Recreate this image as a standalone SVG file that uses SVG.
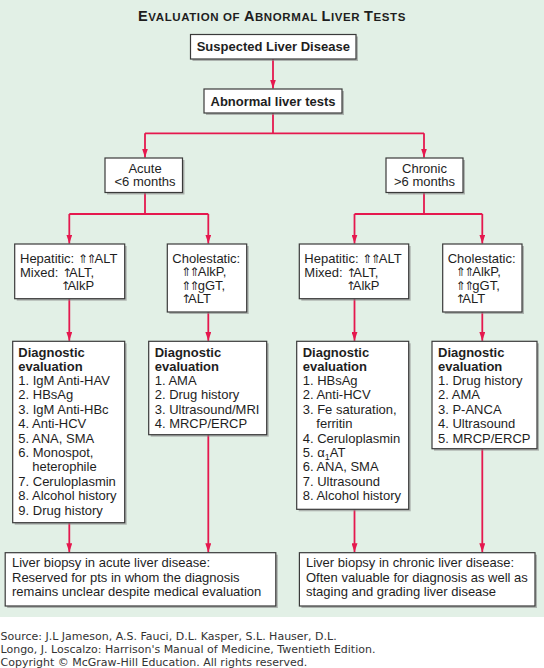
<svg xmlns="http://www.w3.org/2000/svg" width="544" height="668" viewBox="0 0 544 668">
<style>
text{font-family:"Liberation Sans",Arial,"DejaVu Sans",sans-serif;fill:#1e1e1e;font-size:13px}
.b{font-weight:bold}
.box{fill:#fff;stroke:#3a3a3a;stroke-width:1.2}
.sh{fill:#8a8a8a;opacity:.6}
.c{fill:none;stroke:#e5184e;stroke-width:1.8}
.ar{font-family:"DejaVu Sans",sans-serif;font-size:12px;letter-spacing:-1.7px}
.a1{font-family:"DejaVu Sans",sans-serif;font-size:12px;letter-spacing:-3px}
.src{font-family:"DejaVu Sans",Verdana,sans-serif;font-size:11px;fill:#333}
.mid{text-anchor:middle}
</style>
<defs>
<marker id="ah" markerUnits="userSpaceOnUse" markerWidth="9" markerHeight="6" refX="9" refY="3" orient="auto">
<path d="M0,0 L9,3 L0,6 z" fill="#e5184e"/>
</marker>
</defs>
<rect x="0" y="0" width="544" height="617" fill="#e2f0e6"/>
<rect x="0" y="617" width="544" height="51" fill="#fff"/>

<g id="title">
<text x="272" y="21" class="b mid" style="letter-spacing:0.6px"><tspan font-size="14.5">E</tspan><tspan font-size="11.5">VALUATION OF </tspan><tspan font-size="14.5">A</tspan><tspan font-size="11.5">BNORMAL </tspan><tspan font-size="14.5">L</tspan><tspan font-size="11.5">IVER </tspan><tspan font-size="14.5">T</tspan><tspan font-size="11.5">ESTS</tspan></text>
</g>

<g id="connectors">
<line class="c" x1="273" y1="59" x2="273" y2="88.5" marker-end="url(#ah)"/>
<polyline class="c" points="273,113 273,133.3"/>
<line class="c" x1="145" y1="133.3" x2="424" y2="133.3"/>
<line class="c" x1="145" y1="133.3" x2="145" y2="157.5" marker-end="url(#ah)"/>
<line class="c" x1="424" y1="133.3" x2="424" y2="157.5" marker-end="url(#ah)"/>
<line class="c" x1="145" y1="192.5" x2="145" y2="214"/>
<line class="c" x1="69.3" y1="214" x2="208.3" y2="214"/>
<line class="c" x1="69.3" y1="214" x2="69.3" y2="243.5" marker-end="url(#ah)"/>
<line class="c" x1="208.3" y1="214" x2="208.3" y2="243.5" marker-end="url(#ah)"/>
<line class="c" x1="424" y1="192.5" x2="424" y2="214"/>
<line class="c" x1="354.5" y1="214" x2="482.3" y2="214"/>
<line class="c" x1="354.5" y1="214" x2="354.5" y2="243.5" marker-end="url(#ah)"/>
<line class="c" x1="482.3" y1="214" x2="482.3" y2="243.5" marker-end="url(#ah)"/>
<line class="c" x1="69.3" y1="298.7" x2="69.3" y2="340.8" marker-end="url(#ah)"/>
<line class="c" x1="208.3" y1="312" x2="208.3" y2="340.8" marker-end="url(#ah)"/>
<line class="c" x1="354.5" y1="298.7" x2="354.5" y2="340.8" marker-end="url(#ah)"/>
<line class="c" x1="482.3" y1="312" x2="482.3" y2="340.8" marker-end="url(#ah)"/>
<line class="c" x1="69.3" y1="522.7" x2="69.3" y2="552.2" marker-end="url(#ah)"/>
<line class="c" x1="208.3" y1="434.7" x2="208.3" y2="552.2" marker-end="url(#ah)"/>
<line class="c" x1="354.5" y1="509.3" x2="354.5" y2="552.2" marker-end="url(#ah)"/>
<line class="c" x1="482.3" y1="448.7" x2="482.3" y2="552.2" marker-end="url(#ah)"/>
</g>

<g id="suspected">
<rect class="sh" x="192.5" y="36.5" width="165.5" height="24.5"/>
<rect class="box" x="190.5" y="34.5" width="165.5" height="24.5"/>
<text x="273.3" y="51" class="b mid">Suspected Liver Disease</text>
</g>

<g id="abnormal">
<rect class="sh" x="206" y="91" width="138" height="24"/>
<rect class="box" x="204" y="89" width="138" height="24"/>
<text x="273" y="105.5" class="b mid">Abnormal liver tests</text>
</g>

<g id="acute">
<rect class="sh" x="107" y="160" width="77.5" height="34.5"/>
<rect class="box" x="105" y="158" width="77.5" height="34.5"/>
<text x="145" y="173.3" class="mid">Acute</text>
<text x="145" y="186.3" class="mid">&lt;6 months</text>
</g>

<g id="chronic">
<rect class="sh" x="388" y="160" width="77" height="34.5"/>
<rect class="box" x="386" y="158" width="77" height="34.5"/>
<text x="424.5" y="173.3" class="mid">Chronic</text>
<text x="424.5" y="186.3" class="mid">&gt;6 months</text>
</g>

<g id="hepatitic-acute">
<rect class="sh" x="16.7" y="246" width="110" height="54.7"/>
<rect class="box" x="14.7" y="244" width="110" height="54.7"/>
<text x="20" y="263.3">Hepatitic: <tspan class="ar">⇑⇑</tspan>ALT</text>
<text x="20" y="276.6">Mixed: <tspan class="a1">↑</tspan>ALT,</text>
<text x="60.4" y="289.9"><tspan class="a1">↑</tspan>AlkP</text>
</g>

<g id="cholestatic-acute">
<rect class="sh" x="169.3" y="246" width="79.4" height="68"/>
<rect class="box" x="167.3" y="244" width="79.4" height="68"/>
<text x="172.3" y="262.6">Cholestatic:</text>
<text x="181" y="276.1"><tspan class="ar">⇑⇑</tspan>AlkP,</text>
<text x="181" y="289.6"><tspan class="ar">⇑⇑</tspan>gGT,</text>
<text x="181" y="303.2"><tspan class="a1">↑</tspan>ALT</text>
</g>

<g id="hepatitic-chronic">
<rect class="sh" x="301.3" y="246" width="109.4" height="54.7"/>
<rect class="box" x="299.3" y="244" width="109.4" height="54.7"/>
<text x="304.3" y="263.3">Hepatitic: <tspan class="ar">⇑⇑</tspan>ALT</text>
<text x="304.3" y="276.6">Mixed: <tspan class="a1">↑</tspan>ALT,</text>
<text x="345.7" y="289.9"><tspan class="a1">↑</tspan>AlkP</text>
</g>

<g id="cholestatic-chronic">
<rect class="sh" x="444.7" y="246" width="79.3" height="68"/>
<rect class="box" x="442.7" y="244" width="79.3" height="68"/>
<text x="447.7" y="262.6">Cholestatic:</text>
<text x="455.6" y="276.1"><tspan class="ar">⇑⇑</tspan>AlkP,</text>
<text x="455.6" y="289.6"><tspan class="ar">⇑⇑</tspan>gGT,</text>
<text x="455.3" y="303.2"><tspan class="a1">↑</tspan>ALT</text>
</g>

<g id="diag-acute-hepatitic">
<rect class="sh" x="14.7" y="343.3" width="112" height="181.4"/>
<rect class="box" x="12.7" y="341.3" width="112" height="181.4"/>
<text x="18.3" y="356.5" class="b">Diagnostic</text>
<text x="18.3" y="370.5" class="b">evaluation</text>
<text x="18.3" y="385">1. IgM Anti-HAV</text>
<text x="18.3" y="399.4">2. HBsAg</text>
<text x="18.3" y="413.8">3. IgM Anti-HBc</text>
<text x="18.3" y="428.2">4. Anti-HCV</text>
<text x="18.3" y="442.6">5. ANA, SMA</text>
<text x="18.3" y="457">6. Monospot,</text>
<text x="32.3" y="471.4">heterophile</text>
<text x="18.3" y="485.8">7. Ceruloplasmin</text>
<text x="18.3" y="500.2">8. Alcohol history</text>
<text x="18.3" y="514.6">9. Drug history</text>
</g>

<g id="diag-acute-cholestatic">
<rect class="sh" x="150.7" y="343.3" width="118" height="93.4"/>
<rect class="box" x="148.7" y="341.3" width="118" height="93.4"/>
<text x="154.7" y="356.5" class="b">Diagnostic</text>
<text x="154.7" y="370.5" class="b">evaluation</text>
<text x="154.7" y="385">1. AMA</text>
<text x="154.7" y="399.4">2. Drug history</text>
<text x="154.7" y="413.8">3. Ultrasound/MRI</text>
<text x="154.7" y="428.2">4. MRCP/ERCP</text>
</g>

<g id="diag-chronic-hepatitic">
<rect class="sh" x="298.7" y="343.3" width="112" height="168"/>
<rect class="box" x="296.7" y="341.3" width="112" height="168"/>
<text x="302.7" y="356.5" class="b">Diagnostic</text>
<text x="302.7" y="370.5" class="b">evaluation</text>
<text x="302.7" y="385">1. HBsAg</text>
<text x="302.7" y="399.4">2. Anti-HCV</text>
<text x="302.7" y="413.8">3. Fe saturation,</text>
<text x="316.3" y="428.2">ferritin</text>
<text x="302.7" y="442.6">4. Ceruloplasmin</text>
<text x="302.7" y="457">5. α<tspan font-size="9" dy="3">1</tspan><tspan dy="-3">AT</tspan></text>
<text x="302.7" y="471.4">6. ANA, SMA</text>
<text x="302.7" y="485.8">7. Ultrasound</text>
<text x="302.7" y="500.2">8. Alcohol history</text>
</g>

<g id="diag-chronic-cholestatic">
<rect class="sh" x="434" y="343.3" width="105" height="107.4"/>
<rect class="box" x="432" y="341.3" width="105" height="107.4"/>
<text x="438" y="356.5" class="b">Diagnostic</text>
<text x="438" y="370.5" class="b">evaluation</text>
<text x="438" y="385">1. Drug history</text>
<text x="438" y="399.4">2. AMA</text>
<text x="438" y="413.8">3. P-ANCA</text>
<text x="438" y="428.2">4. Ultrasound</text>
<text x="438" y="442.6">5. MRCP/ERCP</text>
</g>

<g id="biopsy-acute">
<rect class="sh" x="7.2" y="554.7" width="270.6" height="53.3"/>
<rect class="box" x="5.2" y="552.7" width="270.6" height="53.3"/>
<text x="12" y="567">Liver biopsy in acute liver disease:</text>
<text x="12" y="581.5">Reserved for pts in whom the diagnosis</text>
<text x="12" y="596">remains unclear despite medical evaluation</text>
</g>

<g id="biopsy-chronic">
<rect class="sh" x="301.4" y="554.7" width="235.6" height="53.3"/>
<rect class="box" x="299.4" y="552.7" width="235.6" height="53.3"/>
<text x="306" y="567">Liver biopsy in chronic liver disease:</text>
<text x="306" y="581.5">Often valuable for diagnosis as well as</text>
<text x="306" y="596">staging and grading liver disease</text>
</g>

<g id="source">
<text x="0.5" y="640" class="src">Source: J.L Jameson, A.S. Fauci, D.L. Kasper, S.L. Hauser, D.L.</text>
<text x="0.5" y="653" class="src">Longo, J. Loscalzo: Harrison's Manual of Medicine, Twentieth Edition.</text>
<text x="0.5" y="666" class="src">Copyright © McGraw-Hill Education. All rights reserved.</text>
</g>
</svg>
